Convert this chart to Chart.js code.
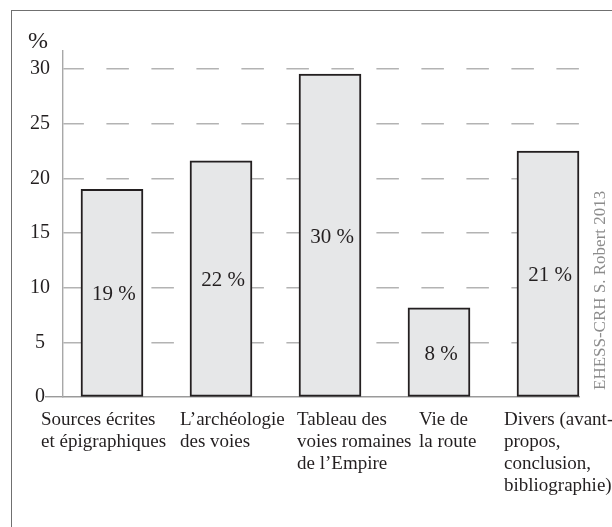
<!DOCTYPE html>
<html>
<head>
<meta charset="utf-8">
<script src="https://cdn.jsdelivr.net/npm/chart.js@4.4.0/dist/chart.umd.min.js"></script>
<style>
  body { margin: 0; background: #fff; }
  #frame { position: absolute; left: 11px; top: 10px; width: 700px; height: 700px;
           border-left: 1.5px solid #707070; border-top: 1.5px solid #707070; }
  #chart { position: absolute; left: 0; top: 0; }
</style>
</head>
<body>
<div id="frame"></div>
<canvas id="chart" width="612" height="527"></canvas>
<script>
// data
const categories = [
    ['Sources écrites', 'et épigraphiques'],
    ['L\u2019archéologie', 'des voies'],
    ['Tableau des', 'voies romaines', 'de l\u2019Empire'],
    ['Vie de', 'la route'],
    ['Divers (avant-', 'propos,', 'conclusion,', 'bibliographie)']
];
const shares = [19, 21.6, 29.55, 8.15, 22.5];
const shareLabels = ['19 %', '22 %', '30 %', '8 %', '21 %'];
const yTicks = [0, 5, 10, 15, 20, 25, 30];
const yUnit = '%';
const credit = 'EHESS-CRH S. Robert 2013';

// layout only: where each category text block starts, px from its bar's left edge
const labelIndent = [-40, -10, -2, 11, -13];

const serif = '"Liberation Serif", "Times New Roman", serif';
const ink = '#231f20';

Chart.defaults.font.family = serif;
Chart.defaults.color = ink;

// texts that are not axis ticks: bar values, category labels, unit, credit
const textPlugin = {
    id: 'texts',
    afterDatasetsDraw(chart) {
        const ctx = chart.ctx;
        const bars = chart.getDatasetMeta(0).data;
        const area = chart.chartArea;
        ctx.save();
        ctx.fillStyle = ink;

        ctx.font = '21px ' + serif;
        ctx.textAlign = 'center';
        ctx.textBaseline = 'middle';
        bars.forEach(function(bar, i){
            ctx.fillText(shareLabels[i], bar.x + 2, (bar.y + bar.base) / 2 + 2);
        });

        ctx.font = '19px ' + serif;
        ctx.textAlign = 'left';
        ctx.textBaseline = 'alphabetic';
        bars.forEach(function(bar, i){
            const left = bar.x - bar.width / 2 + labelIndent[i];
            categories[i].forEach(function(l, j){
                ctx.fillText(l, left, area.bottom + 28 + j * 22);
            });
        });

        ctx.font = '24px ' + serif;
        ctx.textAlign = 'center';
        ctx.fillText(yUnit, 38, 48);

        ctx.fillStyle = '#8c8c8c';
        ctx.font = '17px ' + serif;
        ctx.translate(605, area.bottom - 7);
        ctx.rotate(-Math.PI / 2);
        ctx.textAlign = 'left';
        ctx.fillText(credit, 0, 0);
        ctx.restore();
    }
};

const barData = {
    datasets: [{
        data: shares.map(function(v, i){ return {x: i, y: v}; }),
        backgroundColor: '#e6e7e8',
        borderColor: ink,
        borderWidth: 2,
        borderSkipped: false,
        barThickness: 62,
        clip: false
    }]
};

const config = {
    type: 'bar',
    data: barData,
    options: {
        responsive: false,
        animation: false,
        devicePixelRatio: 1,
        layout: {
            padding: {left: 0, top: 51, right: 33, bottom: 130}
        },
        plugins: {
            legend: {display: false},
            tooltip: {enabled: false}
        },
        scales: {
            x: {
                type: 'linear',
                offset: false,
                min: -0.4495,
                max: 4.2844,
                grid: {display: false},
                ticks: {display: false},
                border: {color: '#9a9a9a', width: 1.4},
                afterFit: function(s){ s.height = 0; }
            },
            y: {
                min: 0,
                max: 31.65,
                afterBuildTicks: function(s){
                    s.ticks = yTicks.map(function(v){ return {value: v}; });
                },
                afterFit: function(s){ s.width = 63; },
                ticks: {
                    font: {size: 20},
                    color: ink,
                    crossAlign: 'center',
                    padding: -5
                },
                grid: {
                    color: function(c){ return c.tick && c.tick.value === 0 ? 'transparent' : '#b3b3b3'; },
                    lineWidth: 1.4,
                    drawTicks: true,
                    tickLength: 18,
                    tickColor: function(c){ return c.tick && c.tick.value === 0 ? '#9a9a9a' : 'transparent'; }
                },
                border: {color: '#a8a8a8', width: 1.4, dash: [22.5, 22.5], dashOffset: 2}
            }
        }
    },
    plugins: [textPlugin]
};

const barChart = new Chart(
    document.getElementById('chart'),
    config
);
</script>
</body>
</html>
